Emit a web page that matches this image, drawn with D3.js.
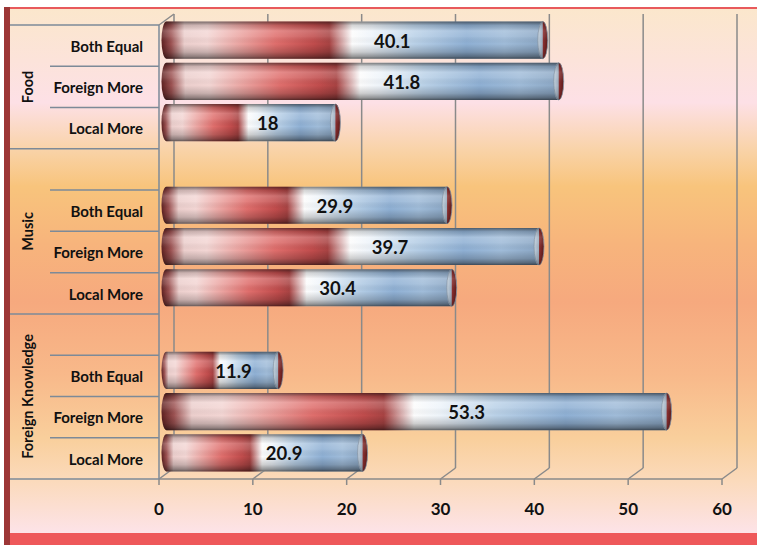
<!DOCTYPE html>
<html>
<head>
<meta charset="utf-8">
<script src="https://cdn.jsdelivr.net/npm/d3@7/dist/d3.min.js"></script>
<style>
  html, body { margin: 0; padding: 0; background: #ffffff; }
  svg { display: block; }
</style>
</head>
<body>
<svg id="chart" width="757" height="545"></svg>
<script>
// ---- data ----
const groups = ["Food", "Music", "Foreign Knowledge"];
const subCategories = ["Both Equal", "Foreign More", "Local More"];
const foodValues = [40.1, 41.8, 18];
const musicValues = [29.9, 39.7, 30.4];
const knowledgeValues = [11.9, 53.3, 20.9];
const xTicks = [0, 10, 20, 30, 40, 50, 60];

const groupValues = [foodValues, musicValues, knowledgeValues];

// rows top -> bottom (a blank spacer row opens every group after the first)
const rows = [];
groups.forEach((g, gi) => {
  if (gi > 0) rows.push({ key: g + "|blank", group: g, label: "", value: null });
  subCategories.forEach((s, si) => rows.push({ key: g + "|" + s, group: g, label: s, value: groupValues[gi][si] }));
});

const svg = d3.select("#chart");
const W = 757, H = 545;
const font = "Lato, 'Open Sans', 'DejaVu Sans', sans-serif";

// ---- geometry ----
const frameLeft = 10, frameTop = 8, frameBottom = 533;
const plotTop = 25, plotBottom = 479;
const depth = { dx: 15, dy: -11 };
const x = d3.scaleLinear().domain([0, 60]).range([159, 722]);
const y = d3.scaleBand().domain(rows.map(r => r.key)).range([plotTop, plotBottom]).paddingInner(0).paddingOuter(0);

const defs = svg.append("defs");

// background gradient
const bg = defs.append("linearGradient").attr("id", "bgGrad").attr("x1", 0).attr("y1", 0).attr("x2", 0).attr("y2", 1);
[[0, "#fbe7cc"], [0.1, "#fce3da"], [0.18, "#fde0e6"], [0.27, "#f9d3a8"], [0.34, "#f8c47c"], [0.45, "#f7b47c"],
 [0.56, "#f6a97e"], [0.7, "#f8b98a"], [0.82, "#f9cf9c"], [0.9, "#fbdabb"], [1, "#fde3e8"]]
  .forEach(([o, c]) => bg.append("stop").attr("offset", o).attr("stop-color", c));

// bar body gradient (along the bar)
const bodyGrad = defs.append("linearGradient").attr("id", "bodyGrad").attr("x1", 0).attr("y1", 0).attr("x2", 1).attr("y2", 0);
[[0, "#5e2020"], [0.025, "#9c5252"], [0.06, "#eccfcd"], [0.12, "#f3d6d4"], [0.2, "#eca8a5"], [0.3, "#df6e6c"],
 [0.4, "#c04c4c"], [0.44, "#a84343"], [0.5, "#fcfcfc"], [0.55, "#eef4fa"], [0.66, "#bbd2e8"], [0.8, "#8fb0d4"],
 [0.9, "#a0bcd9"], [1, "#8aa6c4"]]
  .forEach(([o, c]) => bodyGrad.append("stop").attr("offset", o).attr("stop-color", c));

// vertical shading for the cylinder
const shade = defs.append("linearGradient").attr("id", "shadeGrad").attr("x1", 0).attr("y1", 0).attr("x2", 0).attr("y2", 1);
[[0, "#000", 0.5], [0.1, "#000", 0.15], [0.25, "#fff", 0.2], [0.4, "#fff", 0.12], [0.6, "#000", 0.0],
 [0.82, "#000", 0.18], [0.94, "#000", 0.4], [1, "#000", 0.6]]
  .forEach(([o, c, a]) => shade.append("stop").attr("offset", o).attr("stop-color", c).attr("stop-opacity", a));

// end cap gradient
const capGrad = defs.append("linearGradient").attr("id", "capGrad").attr("x1", 0).attr("y1", 0).attr("x2", 1).attr("y2", 0);
[[0, "#c3d0dc"], [0.45, "#9fb0c2"], [0.55, "#8a2e2e"], [1, "#5a1a1a"]]
  .forEach(([o, c]) => capGrad.append("stop").attr("offset", o).attr("stop-color", c));

// ---- frame / background ----
svg.append("rect").attr("x", frameLeft).attr("y", frameTop).attr("width", W - frameLeft).attr("height", frameBottom - frameTop)
  .attr("fill", "url(#bgGrad)");
svg.append("rect").attr("x", frameLeft).attr("y", frameTop - 1).attr("width", W - frameLeft).attr("height", 2).attr("fill", "#e85a5c");
svg.append("rect").attr("x", 4).attr("y", frameTop - 1).attr("width", 6).attr("height", H - frameTop + 1).attr("fill", "#9c3636");
svg.append("rect").attr("x", frameLeft).attr("y", frameBottom).attr("width", W - frameLeft).attr("height", H - frameBottom).attr("fill", "#ee585a");

// ---- 3D grid ----
const gridColor = "#8a8a8a";
const grid = svg.append("g").attr("stroke", gridColor).attr("stroke-width", 1.5).attr("fill", "none");
xTicks.forEach(t => {
  const fx = x(t);
  grid.append("line").attr("x1", fx + depth.dx).attr("x2", fx + depth.dx)
    .attr("y1", plotTop + depth.dy).attr("y2", plotBottom + depth.dy);
  grid.append("line").attr("x1", fx).attr("y1", plotBottom).attr("x2", fx + depth.dx).attr("y2", plotBottom + depth.dy);
  grid.append("line").attr("x1", fx).attr("x2", fx).attr("y1", plotBottom).attr("y2", plotBottom + 6);
});
grid.append("line").attr("x1", x(0)).attr("x2", x(60)).attr("y1", plotBottom).attr("y2", plotBottom);
grid.append("line").attr("x1", x(0)).attr("y1", plotTop).attr("x2", x(0) + depth.dx).attr("y2", plotTop + depth.dy);

// x tick labels
svg.append("g").selectAll("text").data(xTicks).join("text")
  .attr("x", d => x(d)).attr("y", 509).attr("dy", "0.35em")
  .attr("text-anchor", "middle").attr("font-family", font).attr("font-weight", 700)
  .attr("font-size", 17).attr("fill", "#111").text(d => d);

// ---- category axis ----
const catColor = "#7d8a98";
const cat = svg.append("g").attr("stroke", catColor).attr("stroke-width", 1.5);
cat.append("line").attr("x1", x(0)).attr("x2", x(0)).attr("y1", plotTop).attr("y2", plotBottom);
// lines between rows
rows.forEach((r, i) => {
  if (i === 0) return;
  const yy = y(r.key);
  const groupStart = r.group !== rows[i - 1].group;
  cat.append("line").attr("x1", groupStart ? frameLeft : 50).attr("x2", x(0)).attr("y1", yy).attr("y2", yy);
});
cat.append("line").attr("x1", frameLeft).attr("x2", x(0)).attr("y1", plotTop).attr("y2", plotTop);
cat.append("line").attr("x1", frameLeft).attr("x2", x(0)).attr("y1", plotBottom).attr("y2", plotBottom);

// sub-category labels
svg.append("g").selectAll("text").data(rows.filter(r => r.label)).join("text")
  .attr("x", 143).attr("y", d => y(d.key) + y.bandwidth() / 2 + 1).attr("dy", "0.35em")
  .attr("text-anchor", "end").attr("font-family", font).attr("font-weight", 700)
  .attr("font-size", 15).attr("fill", "#111").text(d => d.label);

// group labels (rotated)
groups.forEach(g => {
  const gRows = rows.filter(r => r.group === g);
  const y0 = y(gRows[0].key), y1 = y(gRows[gRows.length - 1].key) + y.bandwidth();
  const cy = (y0 + y1) / 2;
  svg.append("text").attr("transform", `translate(28,${cy}) rotate(-90)`)
    .attr("dy", "0.35em").attr("text-anchor", "middle").attr("font-family", font).attr("font-weight", 700)
    .attr("font-size", 14.5).attr("fill", "#111").text(g);
});

// ---- bars (cylinders) ----
const barH = y.bandwidth() * 0.9;
const rx = 5;
const bars = svg.append("g");
rows.filter(r => r.value !== null).forEach(r => {
  const cy = y(r.key) + y.bandwidth() / 2 + depth.dy / 2;
  const x0 = x(0) + depth.dx / 2;
  const xe = x(r.value) + depth.dx / 2;
  const top = cy - barH / 2, bot = cy + barH / 2;
  const p = `M${x0},${top} L${xe},${top} L${xe},${bot} L${x0},${bot} A${rx},${barH / 2} 0 0 1 ${x0},${top} Z`;
  const g = bars.append("g");
  g.append("path").attr("d", p).attr("fill", "url(#bodyGrad)");
  g.append("path").attr("d", p).attr("fill", "url(#shadeGrad)");
  g.append("ellipse").attr("cx", xe).attr("cy", cy).attr("rx", rx).attr("ry", barH / 2)
    .attr("fill", "url(#capGrad)").attr("stroke", "#8796a6").attr("stroke-width", 0.8);
  g.append("ellipse").attr("cx", xe).attr("cy", cy).attr("rx", rx).attr("ry", barH / 2)
    .attr("fill", "url(#shadeGrad)").attr("opacity", 0.6);
  g.append("text").attr("x", x0 + (xe - x0) * 0.6).attr("y", cy + 1).attr("dy", "0.35em")
    .attr("text-anchor", "middle").attr("font-family", font).attr("font-weight", 700)
    .attr("font-size", 18.5).attr("fill", "#111").text(r.value);
});
</script>
</body>
</html>
